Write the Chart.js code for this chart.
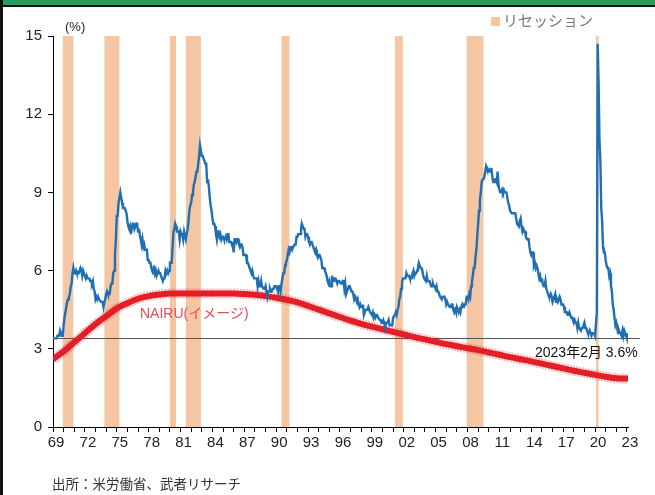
<!DOCTYPE html>
<html><head><meta charset="utf-8">
<script src="https://cdn.jsdelivr.net/npm/chart.js@4/dist/chart.umd.min.js"></script>
<style>
html,body{margin:0;padding:0;background:#fff;}
#wrap{position:relative;width:655px;height:495px;overflow:hidden;background:#fff;font-family:"Liberation Sans",Arial,sans-serif;}
#c{position:absolute;left:0;top:0;}
.hdr{position:absolute;left:0;top:0;width:655px;height:5px;background:#2E9A5F;}
.hdr2{position:absolute;left:0;top:5px;width:655px;height:2px;background:#111;}
.lb{position:absolute;left:0;top:0;width:3px;height:495px;background:#111;}
.t{position:absolute;white-space:nowrap;}
</style></head>
<body><div id="wrap">
<canvas id="c" width="655" height="495"></canvas>
<div class="hdr"></div><div class="hdr2"></div><div class="lb"></div>
<div class="t" style="left:65px;top:19px;font-size:13px;color:#222;">(%)</div>
<div class="t" style="left:491px;top:9px;font-size:15px;color:#777;font-family:'Noto Sans CJK JP',sans-serif;"><span style="display:inline-block;width:9px;height:9px;background:#F5C6A3;margin-right:3px;"></span>リセッション</div>
<div class="t" style="left:140px;top:302px;font-size:14px;color:#E0505A;font-family:'Liberation Sans','Noto Sans CJK JP',sans-serif;">NAIRU(イメージ)</div>
<div class="t" style="left:535px;top:341px;font-size:14px;color:#111;font-family:'Liberation Sans','Noto Sans CJK JP',sans-serif;">2023年2月 3.6%</div>
<div class="t" style="left:52px;top:473px;font-size:13.5px;color:#333;font-family:'Noto Sans CJK JP',sans-serif;">出所：米労働省、武者リサーチ</div>
</div>
<script>
// ---- data ----
const startYear = 1969;
const unemploymentRate = [
3.4,3.4,3.4,3.4,3.4,3.5,3.5,3.5,3.7,3.7,3.5,3.5,
3.9,4.2,4.4,4.6,4.8,4.9,5.0,5.1,5.4,5.5,5.9,6.1,
5.9,5.9,6.0,5.9,5.9,5.9,6.0,6.1,6.0,5.8,6.0,6.0,
5.8,5.7,5.8,5.7,5.7,5.7,5.6,5.6,5.5,5.6,5.3,5.2,
4.9,5.0,4.9,5.0,4.9,4.9,4.8,4.8,4.8,4.6,4.8,4.9,
5.1,5.2,5.1,5.1,5.1,5.4,5.5,5.5,5.9,6.0,6.6,7.2,
8.1,8.1,8.6,8.8,9.0,8.8,8.6,8.4,8.4,8.4,8.3,8.2,
7.9,7.7,7.6,7.7,7.4,7.6,7.8,7.8,7.6,7.7,7.8,7.8,
7.5,7.6,7.4,7.2,7.0,7.2,6.9,7.0,6.8,6.8,6.8,6.4,
6.4,6.3,6.3,6.1,6.0,5.9,6.2,5.9,6.0,5.8,5.9,6.0,
5.9,5.9,5.8,5.8,5.6,5.7,5.7,6.0,5.9,6.0,5.9,6.0,
6.3,6.3,6.3,6.9,7.5,7.6,7.8,7.7,7.5,7.5,7.5,7.2,
7.5,7.4,7.4,7.2,7.5,7.5,7.2,7.4,7.6,7.9,8.3,8.5,
8.6,8.9,9.0,9.3,9.4,9.6,9.8,9.8,10.1,10.4,10.8,10.8,
10.4,10.4,10.3,10.2,10.1,10.1,9.4,9.5,9.2,8.8,8.5,8.3,
8.0,7.8,7.8,7.7,7.4,7.2,7.5,7.5,7.3,7.4,7.2,7.3,
7.3,7.2,7.2,7.3,7.2,7.4,7.4,7.1,7.1,7.1,7.0,7.0,
6.7,7.2,7.2,7.1,7.2,7.2,7.0,6.9,7.0,7.0,6.9,6.6,
6.6,6.6,6.6,6.3,6.3,6.2,6.1,6.0,5.9,6.0,5.8,5.7,
5.7,5.7,5.7,5.4,5.6,5.4,5.4,5.6,5.4,5.4,5.3,5.3,
5.4,5.2,5.0,5.2,5.2,5.3,5.2,5.2,5.3,5.3,5.4,5.4,
5.4,5.3,5.2,5.4,5.4,5.2,5.5,5.7,5.9,5.9,6.2,6.3,
6.4,6.6,6.8,6.7,6.9,6.9,6.8,6.9,6.9,7.0,7.0,7.3,
7.3,7.4,7.4,7.4,7.6,7.8,7.7,7.6,7.6,7.3,7.4,7.4,
7.3,7.1,7.0,7.1,7.1,7.0,6.9,6.8,6.7,6.8,6.6,6.5,
6.6,6.6,6.5,6.4,6.1,6.1,6.1,6.0,5.9,5.8,5.6,5.5,
5.6,5.4,5.4,5.8,5.6,5.6,5.7,5.7,5.6,5.5,5.6,5.6,
5.6,5.5,5.5,5.6,5.6,5.3,5.5,5.1,5.2,5.2,5.4,5.4,
5.3,5.2,5.2,5.1,4.9,5.0,4.9,4.8,4.9,4.7,4.6,4.7,
4.6,4.6,4.7,4.3,4.4,4.5,4.5,4.5,4.6,4.5,4.4,4.4,
4.3,4.4,4.2,4.3,4.2,4.3,4.3,4.2,4.2,4.1,4.1,4.0,
4.0,4.1,4.0,3.8,4.0,4.0,4.0,4.1,3.9,3.9,3.9,3.9,
4.2,4.2,4.3,4.4,4.3,4.5,4.6,4.9,5.0,5.3,5.5,5.7,
5.7,5.7,5.7,5.9,5.8,5.8,5.8,5.7,5.7,5.7,5.9,6.0,
5.8,5.9,5.9,6.0,6.1,6.3,6.2,6.1,6.1,6.0,5.8,5.7,
5.7,5.6,5.8,5.6,5.6,5.6,5.5,5.4,5.4,5.5,5.4,5.4,
5.3,5.4,5.2,5.2,5.1,5.0,5.0,4.9,5.0,5.0,5.0,4.9,
4.7,4.8,4.7,4.7,4.6,4.6,4.7,4.7,4.5,4.4,4.5,4.4,
4.6,4.5,4.4,4.5,4.4,4.6,4.7,4.6,4.7,4.7,4.7,5.0,
5.0,4.9,5.1,5.0,5.4,5.6,5.8,6.1,6.1,6.5,6.8,7.3,
7.8,8.3,8.7,9.0,9.4,9.5,9.5,9.6,9.8,10.0,9.9,9.9,
9.8,9.8,9.9,9.9,9.6,9.4,9.4,9.5,9.5,9.4,9.8,9.3,
9.1,9.0,9.0,9.1,9.0,9.1,9.0,9.0,9.0,8.8,8.6,8.5,
8.3,8.3,8.2,8.2,8.2,8.2,8.2,8.0,7.8,7.8,7.7,7.9,
8.0,7.7,7.5,7.6,7.5,7.5,7.3,7.2,7.2,7.2,6.9,6.7,
6.6,6.7,6.7,6.2,6.3,6.1,6.2,6.1,5.9,5.7,5.8,5.6,
5.7,5.5,5.4,5.4,5.6,5.3,5.2,5.1,5.0,5.0,5.1,5.0,
4.8,4.9,5.0,5.1,4.8,4.9,4.8,4.9,5.0,4.9,4.7,4.7,
4.7,4.6,4.4,4.4,4.4,4.3,4.3,4.4,4.3,4.2,4.2,4.1,
4.0,4.1,4.0,4.0,3.8,4.0,3.8,3.8,3.7,3.8,3.8,3.9,
4.0,3.8,3.8,3.7,3.6,3.6,3.7,3.6,3.5,3.6,3.6,3.6,
3.5,3.5,4.4,14.7,13.2,11.0,10.2,8.4,7.9,6.9,6.7,6.7,
6.4,6.2,6.1,6.1,5.8,5.9,5.4,5.2,4.7,4.5,4.2,3.9,
4.0,3.8,3.6,3.7,3.6,3.6,3.5,3.7,3.5,3.7,3.6,3.5,
3.4,3.6
];
const nairuYears = [1969,1970,1971,1972,1973,1974,1975,1976,1977,1978,1979,1980,1981,1982,1983,1984,1985,1986,1987,1988,1989,1990,1991,1992,1993,1994,1995,1996,1997,1998,1999,2000,2001,2002,2003,2004,2005,2006,2007,2008,2009,2010,2011,2012,2013,2014,2015,2016,2017,2018,2019,2020,2021,2022,2023.1];
const nairu = [2.6,2.9,3.25,3.6,3.95,4.25,4.55,4.75,4.92,5.02,5.08,5.12,5.12,5.12,5.12,5.12,5.12,5.12,5.1,5.07,5.02,4.96,4.88,4.78,4.65,4.5,4.36,4.22,4.08,3.96,3.85,3.75,3.65,3.55,3.45,3.36,3.27,3.18,3.1,3.02,2.95,2.86,2.77,2.68,2.6,2.52,2.43,2.34,2.25,2.16,2.08,2.0,1.93,1.87,1.86];
// recession periods [start, end] in decimal years (NBER)
const recessions = [[1969+11/12,1970+11/12],[1973+10/12,1975+3/12],[1980,1980+7/12],[1981+6/12,1982+11/12],[1990+6/12,1991+3/12],[2001+2/12,2001+11/12],[2007+11/12,2009+6/12],[2020+1/12,2020+4/12]];
const referenceLevel = 3.4;
const yTicks = [0,3,6,9,12,15];
const xLabelStart = 1969, xLabelStep = 3;

// ---- build ----
const unempPoints = unemploymentRate.map((v,i)=>({x:startYear+i/12, y:v}));
const nairuPoints = nairu.map((v,i)=>({x:nairuYears[i], y:v}));

const bandPlugin = {
  id:'bands',
  beforeDatasetsDraw(chart){
    const {ctx, scales:{x,y}} = chart;
    ctx.save();
    ctx.fillStyle = '#F5C6A3';
    const top = y.getPixelForValue(15), bot = y.getPixelForValue(0);
    recessions.forEach(([s,e])=>{
      const x0 = x.getPixelForValue(s), x1 = x.getPixelForValue(e);
      ctx.fillRect(x0, top, Math.max(x1-x0,1.5), bot-top);
    });
    const yy = Math.round(y.getPixelForValue(referenceLevel))+0.5;
    ctx.strokeStyle = '#555';
    ctx.lineWidth = 1;
    ctx.beginPath();
    ctx.moveTo(x.left, yy);
    ctx.lineTo(x.right+12, yy);
    ctx.stroke();
    ctx.restore();
  }
};

new Chart(document.getElementById('c'), {
  type:'line',
  data:{datasets:[
    {data:unempPoints, borderColor:'#1F6FB2', borderWidth:2.4, pointRadius:0, tension:0, order:1},
    {data:nairuPoints, borderColor:'rgba(226,30,38,0.3)', borderWidth:10, pointRadius:0, tension:0.4, cubicInterpolationMode:'monotone', order:3, borderDash:[2,1]},
    {data:nairuPoints, borderColor:'#E31E26', borderWidth:6, pointRadius:0, tension:0.4, cubicInterpolationMode:'monotone', order:2}
  ]},
  options:{
    responsive:false, animation:false, devicePixelRatio:1,
    layout:{padding:{left:0,right:27,top:36,bottom:38}},
    plugins:{legend:{display:false}, tooltip:{enabled:false}},
    scales:{
      x:{type:'linear', min:1969, max:2023.1,
        afterFit(s){s.height=30;},
        afterBuildTicks(s){ const t=[]; for(let v=1969; v<=2023; v++) t.push({value:v}); s.ticks=t; },
        grid:{display:true, drawOnChartArea:false, drawTicks:true, tickLength:5, tickColor:'#000', color:'#000'},
        border:{display:true, color:'#000', width:1},
        ticks:{autoSkip:false, maxRotation:0, padding:2, color:'#222', labelOffset:3,
          font:{family:'"Liberation Sans", Arial, sans-serif', size:15},
          callback(v){ return ((v-xLabelStart)%xLabelStep===0) ? String(v%100).padStart(2,'0') : ''; }}
      },
      y:{min:0, max:15,
        afterFit(s){s.width=53;},
        afterBuildTicks(s){ s.ticks = yTicks.map(v=>({value:v})); },
        grid:{display:true, drawOnChartArea:false, drawTicks:true, tickLength:5, tickColor:'#000', color:'#000'},
        border:{display:true, color:'#000', width:1},
        ticks:{padding:6, color:'#222', font:{family:'"Liberation Sans", Arial, sans-serif', size:15}}
      }
    }
  },
  plugins:[bandPlugin]
});
</script>
</body></html>
